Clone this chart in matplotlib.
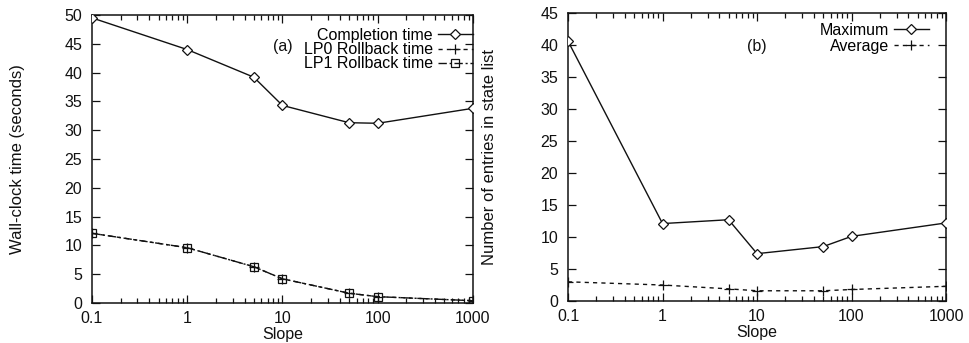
import numpy as np
import matplotlib
matplotlib.use('Agg')
import matplotlib.pyplot as plt
from matplotlib.ticker import LogLocator, NullFormatter

plt.rcParams['font.family'] = ['Liberation Sans', 'DejaVu Sans']
plt.rcParams['font.size'] = 11.5

# data
slope = [0.1, 1, 5, 10, 50, 100, 1000]
completion = [49.5, 44.0, 39.2, 34.3, 31.3, 31.2, 33.8]
lp0_rollback = [12.1, 9.6, 6.3, 4.2, 1.7, 1.1, 0.4]
lp1_rollback = [12.1, 9.6, 6.3, 4.2, 1.7, 1.1, 0.4]
max_entries = [40.6, 12.1, 12.7, 7.4, 8.5, 10.1, 12.2]
avg_entries = [3.0, 2.5, 1.9, 1.6, 1.6, 1.8, 2.3]
xticks = [0.1, 1, 10, 100, 1000]
xticklabels = ['0.1', '1', '10', '100', '1000']

ink = '#111111'
fig = plt.figure(figsize=(9.7, 3.43), dpi=100)
ax1 = fig.add_axes([0.0948, 0.1166, 0.3928, 0.8397])
ax2 = fig.add_axes([0.5856, 0.1224, 0.3897, 0.8397])


def style(ax, ymax, ystep):
    ax.set_xscale('log')
    ax.set_xlim(0.1, 1000)
    ax.set_ylim(0, ymax)
    ax.set_xticks(xticks)
    ax.set_xticklabels(xticklabels)
    ax.xaxis.set_minor_locator(LogLocator(base=10, subs=np.arange(2, 10)))
    ax.xaxis.set_minor_formatter(NullFormatter())
    ax.set_yticks(np.arange(0, ymax + 0.1, ystep))
    ax.tick_params(which='both', direction='in', top=True, right=True,
                   colors=ink, width=0.9)
    ax.tick_params(which='major', length=6)
    ax.tick_params(axis='x', which='major', pad=6)
    ax.tick_params(axis='y', which='major', pad=7)
    ax.tick_params(which='minor', length=3.5)
    for s in ax.spines.values():
        s.set_color(ink)
        s.set_linewidth(1.1)
    ax.set_xlabel('Slope', labelpad=0.5, color=ink)


# (a) wall-clock time
ax1.plot(slope, completion, color=ink, lw=1.0, marker='D', ms=4.8,
         mfc='white', mec=ink, mew=0.9, label='Completion time', zorder=3)
ax1.plot(slope, lp0_rollback, color=ink, lw=1.0, dashes=(3, 3), marker='+',
         ms=7, mew=0.9, label='LP0 Rollback time', zorder=4)
ax1.plot(slope, lp1_rollback, color=ink, lw=1.0, dashes=(6, 2, 1.5, 2),
         marker='s', ms=6, mfc='none', mec=ink, mew=0.9,
         label='LP1 Rollback time', zorder=3)
style(ax1, 50, 5)
ax1.set_ylabel('Wall-clock time (seconds)', labelpad=28, color=ink, fontsize=12)
ax1.text(0.50, 0.889, '(a)', transform=ax1.transAxes, ha='center',
         va='center', color=ink)
ax1.legend(loc='upper right', bbox_to_anchor=(1.0, 0.955), frameon=False,
           markerfirst=False, borderpad=0, borderaxespad=0, handlelength=2.2,
           handletextpad=0.3, labelspacing=-0.05)

# (b) state list entries
ax2.plot(slope, max_entries, color=ink, lw=1.0, marker='D', ms=4.8,
         mfc='white', mec=ink, mew=0.9, label='Maximum', zorder=3)
ax2.plot(slope, avg_entries, color=ink, lw=1.0, dashes=(3, 3), marker='+',
         ms=7, mew=0.9, label='Average', zorder=3)
style(ax2, 45, 5)
ax2.set_ylabel('Number of entries in state list', labelpad=31, color=ink,
               fontsize=12)
ax2.text(0.50, 0.885, '(b)', transform=ax2.transAxes, ha='center',
         va='center', color=ink)
ax2.legend(loc='upper right', bbox_to_anchor=(0.955, 0.965), frameon=False,
           markerfirst=False, borderpad=0, borderaxespad=0, handlelength=2.2,
           handletextpad=0.3, labelspacing=0.05)

fig.savefig('out.png', dpi=100)
